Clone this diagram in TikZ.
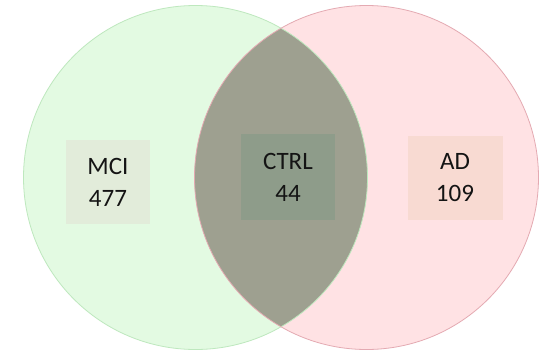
\documentclass[tikz,border=0pt]{standalone}
\usepackage{fontspec}
\setmainfont{Carlito}
\definecolor{cgreen}{RGB}{227,250,226}
\definecolor{cgreenedge}{RGB}{190,232,190}
\definecolor{cpink}{RGB}{255,226,228}
\definecolor{cpinkedge}{RGB}{228,170,178}
\definecolor{clens}{RGB}{158,160,144}
\definecolor{bmci}{RGB}{226,236,218}
\definecolor{bctrl}{RGB}{142,156,138}
\definecolor{bad}{RGB}{248,218,210}
\definecolor{ctext}{RGB}{20,20,20}
\tikzset{
  labelbox/.style={rectangle, inner sep=0pt, align=center, text=ctext,
    font=\fontsize{25}{32}\selectfont},
}
\begin{document}
\begin{tikzpicture}[x=1pt,y=-1pt]
\useasboundingbox (0,0) rectangle (541,354);
\fill[white] (0,0) rectangle (541,354);
\coordinate (cl) at (195.5,177.5);
\coordinate (cr) at (366.5,177.5);
\fill[cgreen] (cl) circle[radius=172];
\fill[cpink] (cr) circle[radius=172];
\begin{scope}
  \clip (cl) circle[radius=172];
  \fill[clens] (cr) circle[radius=172];
\end{scope}
\draw[cgreenedge, line width=0.8pt] (cl) circle[radius=172];
\draw[cpinkedge, line width=0.8pt] (cr) circle[radius=172];
\node[labelbox, fill=bmci, minimum width=84pt, minimum height=84pt] (mci) at (108,182) {MCI\\477};
\node[labelbox, fill=bctrl, minimum width=94pt, minimum height=86pt] (ctrl) at (288,177) {CTRL\\44};
\node[labelbox, fill=bad, minimum width=95pt, minimum height=84pt] (ad) at (455,178) {AD\\109};
\end{tikzpicture}
\end{document}
